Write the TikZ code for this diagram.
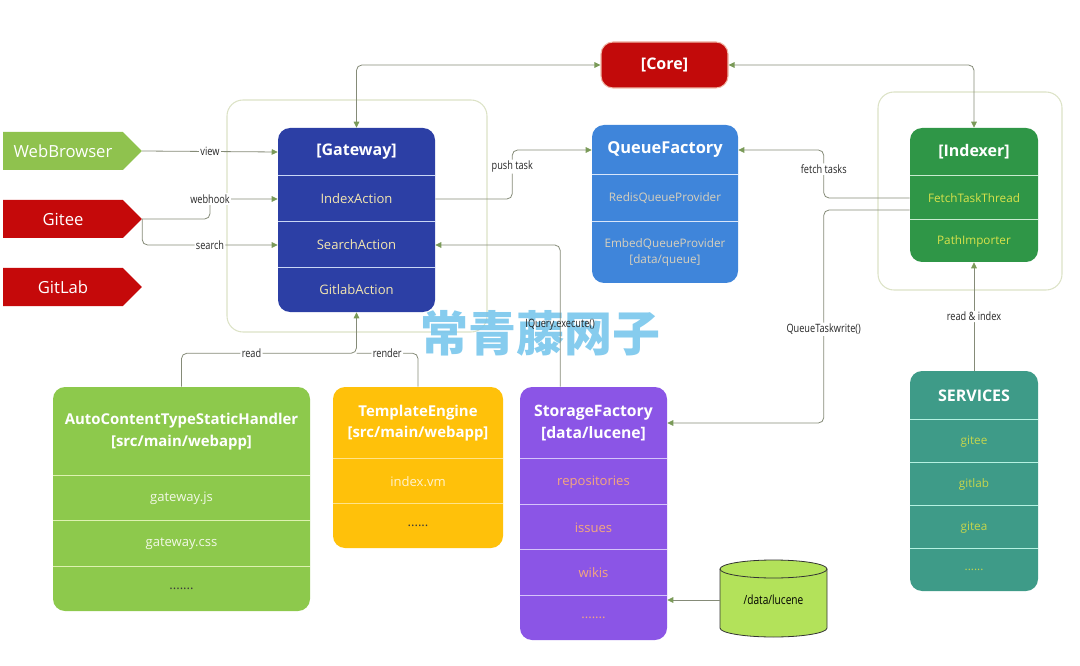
\documentclass[tikz,border=0pt]{standalone}
\usepackage{fontspec}
\setmainfont{Open Sans}
\newfontfamily\condfont[FakeStretch=0.8]{Open Sans}
\newfontfamily\cjkfont{Noto Sans CJK SC}
\usetikzlibrary{arrows.meta,positioning,shapes.symbols,calc}
\definecolor{webgreen}{HTML}{8FC24E}
\definecolor{srcred}{HTML}{C5090A}
\definecolor{corered}{HTML}{C20A0A}
\definecolor{corerim}{HTML}{F0B8A8}
\definecolor{gwblue}{HTML}{2C3FA5}
\definecolor{qfblue}{HTML}{3F85DA}
\definecolor{ixgreen}{HTML}{2F9647}
\definecolor{svteal}{HTML}{3E9B88}
\definecolor{achgreen}{HTML}{8DC94C}
\definecolor{teyellow}{HTML}{FFC10A}
\definecolor{sfpurple}{HTML}{8B55E6}
\definecolor{cylgreen}{HTML}{B3E25A}
\definecolor{linegray}{HTML}{858B78}
\definecolor{tipgreen}{HTML}{7A9A58}
\definecolor{framecol}{HTML}{DCE2C6}
\definecolor{wmblue}{HTML}{79C6EC}
\definecolor{gwitem}{HTML}{F3E6B0}
\definecolor{qfitem}{HTML}{D8D0BC}
\definecolor{ixitem}{HTML}{D9E24B}
\definecolor{svitem}{HTML}{C6D64C}
\definecolor{achitem}{HTML}{F2F8E6}
\definecolor{teitem}{HTML}{FFF3D0}
\definecolor{sfitem}{HTML}{F4A77E}
\definecolor{dotdark}{HTML}{3A3A3A}
\definecolor{gwsep}{HTML}{C9D6F5}
\definecolor{qfsep}{HTML}{D8E6FA}
\definecolor{ixsep}{HTML}{C9EBCF}
\definecolor{svsep}{HTML}{B5F2E2}
\definecolor{achsep}{HTML}{DDF2B0}
\definecolor{tesep}{HTML}{FFE38A}
\definecolor{sfsep}{HTML}{D6C4FA}

\begin{document}
\begin{tikzpicture}[x=0.75pt,y=-0.75pt] % one unit is one pixel of the reference, y grows downwards
\tikzset{box/.style={rounded corners=9pt, inner sep=0pt}} % coloured body of a stacked box
\tikzset{frame/.style={draw=framecol, line width=0.8pt, rounded corners=12pt, inner sep=0pt}} % thin outline around a group
\tikzset{row/.style 2 args={minimum width=#1, minimum height=#2, inner sep=0pt, align=center}} % one line of a stacked box
\tikzset{ttl/.style={font=\bfseries\fontsize{12}{14.5}\selectfont, text=white}}
\tikzset{itm/.style={font=\fontsize{9.8}{12}\selectfont}}
\tikzset{sep/.style={line width=1.1pt}}
\tikzset{source/.style={shape=signal, signal to=east, signal pointer angle=90, minimum width=104pt, minimum height=28.5pt, inner sep=0pt, text=white, font=\fontsize{12.5}{14}\selectfont}}
\tikzset{conn/.style={draw=linegray, line width=0.6pt, rounded corners=4pt, -{Triangle[length=4.5pt,width=4.2pt,color=tipgreen]}}}
\tikzset{connboth/.style={conn, {Triangle[length=4.5pt,width=4.2pt,color=tipgreen]}-{Triangle[length=4.5pt,width=4.2pt,color=tipgreen]}}}
\tikzset{connplain/.style={draw=linegray, line width=0.6pt, rounded corners=4pt}}
\tikzset{lbl/.style={font=\condfont\fontsize{8.6}{9}\selectfont, fill=white, inner sep=1pt, text=black!85}}
\useasboundingbox (0,0) rectangle (1080,666);

% group outlines
\node[frame, minimum width=195pt, minimum height=174pt] (gwframe) at (357,216) {};
\node[frame, minimum width=138pt, minimum height=148.5pt] (ixframe) at (970,191) {};

% sources on the left
\node[source, fill=webgreen] (web) at (63,151) {WebBrowser};
\node[source, fill=srcred] (gitee) at (63,219) {Gitee};
\node[source, fill=srcred] (gitlab) at (63,287) {GitLab};

% core
\node[box, fill=corered, draw=corerim, line width=0.8pt, minimum width=95.25pt, minimum height=34.5pt, ttl] (core) at (664.5,65) {[Core]};

% gateway
\node[box, fill=gwblue, minimum width=117.75pt, minimum height=138pt] (gw) at (356.5,220) {};
\node[row={117.75pt}{36pt}, ttl] (gwtitle) at (356.5,152) {[Gateway]};
\node[row={117.75pt}{34.5pt}, itm, text=gwitem] (gwidx) at (356.5,199) {IndexAction};
\node[row={117.75pt}{34.5pt}, itm, text=gwitem] (gwsearch) at (356.5,245) {SearchAction};
\node[row={117.75pt}{33pt}, itm, text=gwitem] (gwgit) at (356.5,290) {GitlabAction};
\foreach \r in {gwidx,gwsearch,gwgit} \draw[sep, gwsep] (\r.north west) -- (\r.north east);

% queue factory
\node[box, fill=qfblue, minimum width=109.5pt, minimum height=118.5pt] (qf) at (665,204) {};
\node[row={109.5pt}{37.5pt}, ttl, font=\bfseries\fontsize{12.3}{14.5}\selectfont] (qftitle) at (665,150) {QueueFactory};
\node[row={109.5pt}{35.25pt}, itm, text=qfitem, font=\fontsize{8.8}{11}\selectfont] (qfredis) at (665,198.5) {RedisQueueProvider};
\node[row={109.5pt}{45.75pt}, itm, text=qfitem, font=\fontsize{8.8}{12}\selectfont] (qfembed) at (665,252.5) {EmbedQueueProvider\\{[data/queue]}};
\foreach \r in {qfredis,qfembed} \draw[sep, qfsep] (\r.north west) -- (\r.north east);

% indexer
\node[box, fill=ixgreen, minimum width=96pt, minimum height=100.5pt] (ix) at (974,195) {};
\node[row={96pt}{36pt}, ttl] (ixtitle) at (974,152) {[Indexer]};
\node[row={96pt}{33pt}, itm, text=ixitem, font=\fontsize{8.8}{11}\selectfont] (ixfetch) at (974,198) {FetchTaskThread};
\node[row={96pt}{31.5pt}, itm, text=ixitem, font=\fontsize{8.8}{11}\selectfont] (ixpath) at (974,241) {PathImporter};
\foreach \r in {ixfetch,ixpath} \draw[sep, ixsep] (\r.north west) -- (\r.north east);

% services
\node[box, fill=svteal, minimum width=96pt, minimum height=165pt] (sv) at (974,481) {};
\node[row={96pt}{36.75pt}, ttl] (svtitle) at (974,395.5) {SERVICES};
\node[row={96pt}{32.25pt}, itm, text=svitem, font=\fontsize{8.8}{11}\selectfont] (svgitee) at (974,441.5) {gitee};
\node[row={96pt}{32.25pt}, itm, text=svitem, font=\fontsize{8.8}{11}\selectfont] (svgitlab) at (974,484.5) {gitlab};
\node[row={96pt}{32.25pt}, itm, text=svitem, font=\fontsize{8.8}{11}\selectfont] (svgitea) at (974,527.5) {gitea};
\node[row={96pt}{31.5pt}, itm, text=svitem, font=\fontsize{8.8}{11}\selectfont] (svmore) at (974,570) {......};
\foreach \r in {svgitee,svgitlab,svgitea,svmore} \draw[sep, svsep] (\r.north west) -- (\r.north east);

% static handler
\node[box, fill=achgreen, minimum width=192.75pt, minimum height=168pt] (ach) at (181.5,499) {};
\node[row={192.75pt}{66.75pt}, ttl, font=\bfseries\fontsize{11.2}{16}\selectfont] (achtitle) at (181.5,431.5) {AutoContentTypeStaticHandler\\{[src/main/webapp]}};
\node[row={192.75pt}{33.75pt}, itm, text=achitem] (achjs) at (181.5,498.5) {gateway.js};
\node[row={192.75pt}{34.5pt}, itm, text=achitem] (achcss) at (181.5,544) {gateway.css};
\node[row={192.75pt}{33pt}, itm, text=dotdark] (achmore) at (181.5,589) {.......};
\foreach \r in {achjs,achcss,achmore} \draw[sep, achsep] (\r.north west) -- (\r.north east);

% template engine
\node[box, fill=teyellow, minimum width=127.5pt, minimum height=120.75pt] (te) at (418,467.5) {};
\node[row={127.5pt}{54pt}, ttl, font=\bfseries\fontsize{11.2}{16}\selectfont] (tetitle) at (418,423) {TemplateEngine\\{[src/main/webapp]}};
\node[row={127.5pt}{33.75pt}, itm, text=teitem] (tevm) at (418,481.5) {index.vm};
\node[row={127.5pt}{33pt}, itm, text=dotdark] (temore) at (418,526) {......};
\foreach \r in {tevm,temore} \draw[sep, tesep] (\r.north west) -- (\r.north east);

% storage factory
\node[box, fill=sfpurple, minimum width=110.25pt, minimum height=189.75pt] (sf) at (593.5,513.5) {};
\node[row={110.25pt}{54pt}, ttl, font=\bfseries\fontsize{11.8}{16}\selectfont] (sftitle) at (593.5,423) {StorageFactory\\{[data/lucene]}};
\node[row={110.25pt}{34.5pt}, itm, text=sfitem] (sfrepo) at (593.5,482) {repositories};
\node[row={110.25pt}{33.75pt}, itm, text=sfitem] (sfissues) at (593.5,527.5) {issues};
\node[row={110.25pt}{34.5pt}, itm, text=sfitem] (sfwikis) at (593.5,573) {wikis};
\node[row={110.25pt}{33pt}, itm, text=sfitem] (sfmore) at (593.5,618) {.......};
\foreach \r in {sfrepo,sfissues,sfwikis,sfmore} \draw[sep, sfsep] (\r.north west) -- (\r.north east);

% lucene folder drawn as a cylinder
\filldraw[fill=cylgreen, draw=black!80, line width=0.6pt] (720,569) -- (720,628) arc[start angle=180, end angle=360, x radius=40.125pt, y radius=6.75pt] -- (827,569) arc[start angle=0, end angle=180, x radius=40.125pt, y radius=6.75pt] -- cycle;
\draw[black!80, line width=0.6pt] (720,569) arc[start angle=180, end angle=360, x radius=40.125pt, y radius=6.75pt];
\node[row={80.25pt}{40pt}, font=\condfont\fontsize{9.5}{11}\selectfont, text=black] (cyl) at (773.5,600) {/data/lucene};

% watermark
\node[text=wmblue, opacity=0.9, font=\cjkfont\bfseries\fontsize{36}{36}\selectfont] (mark) at (540,333) {常青藤网子};

% connectors
\draw[conn] (web.east) -- node[lbl]{view} (gwtitle.west);
\coordinate (hookbend) at (210,199);
\draw[conn] (gitee.east) -| (hookbend) -- (gwidx.west);
\node[lbl] at (hookbend) {webhook};
\draw[conn] (gitee.east) |- node[lbl,pos=0.75]{search} (gwsearch.west);
\draw[conn] (gwidx.east) -- ++(77,0) |- node[lbl,pos=0.33]{push task} (qftitle.west);
\draw[connboth] (gwtitle.north) |- (core.west);
\draw[connboth] (core.east) -| (ixtitle.north);
\draw[conn] (ixfetch.west) -- ++(-86,0) |- node[lbl,pos=0.3]{fetch tasks} (qftitle.east);
\draw[conn] ([yshift=-9pt]ixfetch.west) -- ++(-86,0) |- node[lbl,pos=0.28]{QueueTaskwrite()} (sftitle.east);
\draw[conn] (svtitle.north) -- node[lbl]{read \& index} (ixpath.south);
\coordinate (viewjoin) at ([yshift=-30.75pt]gwgit.south);
\draw[conn] (achtitle.north) |- node[lbl,pos=0.7]{read} (viewjoin) -- (gwgit.south);
\draw[connplain] (tetitle.north) |- node[lbl,pos=0.75]{render} (viewjoin);
\draw[conn] ([xshift=-25pt]sftitle.north) |- node[lbl,pos=0.22,fill=none]{IQuery.execute()} (gwsearch.east);
\draw[conn] (cyl.west) -- (cyl.west -| sfwikis.east);
\end{tikzpicture}
\end{document}
